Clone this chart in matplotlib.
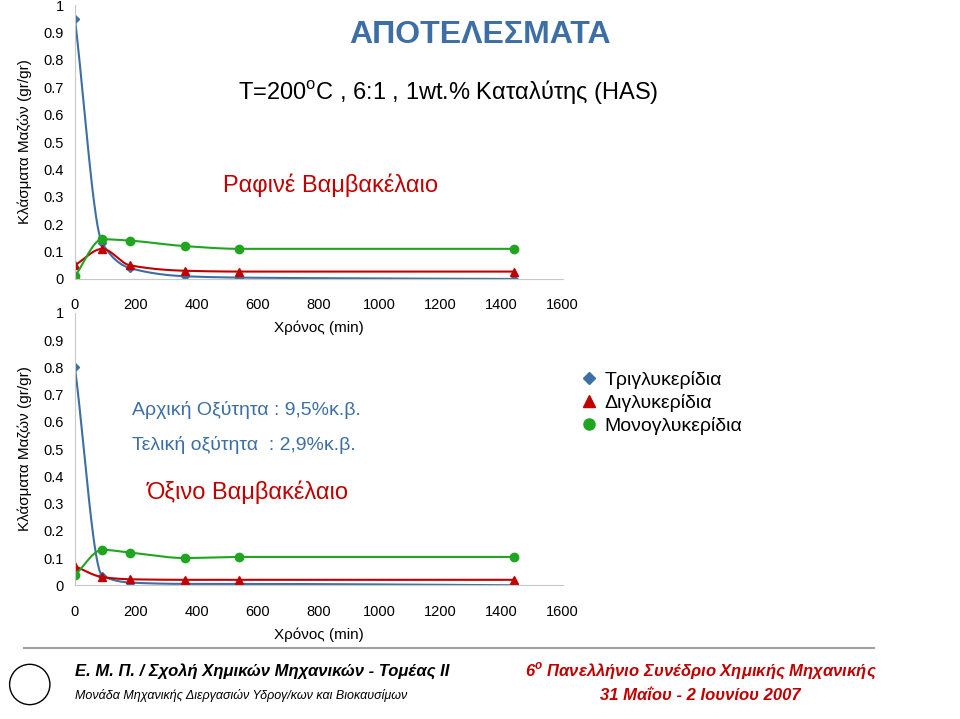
import numpy as np
from matplotlib import pyplot as plt
from matplotlib.lines import Line2D
from matplotlib.patches import Ellipse

plt.rcParams['font.family'] = 'Liberation Sans'

# χρόνοι δειγματοληψίας (min)
time_min = [0, 90, 180, 360, 540, 1440]

# Ραφινέ Βαμβακέλαιο
tg_refined = [0.95, 0.13, 0.04, 0.01, 0.005, 0.0]
dg_refined = [0.05, 0.11, 0.05, 0.03, 0.027, 0.027]
mg_refined = [0.01, 0.145, 0.14, 0.12, 0.11, 0.11]

# Όξινο Βαμβακέλαιο
tg_acid = [0.80, 0.035, 0.01, 0.005, 0.005, 0.0]
dg_acid = [0.07, 0.03, 0.022, 0.02, 0.02, 0.02]
mg_acid = [0.037, 0.13, 0.12, 0.10, 0.104, 0.104]

x_ticks = [0, 200, 400, 600, 800, 1000, 1200, 1400, 1600]
y_ticks = [0, 0.1, 0.2, 0.3, 0.4, 0.5, 0.6, 0.7, 0.8, 0.9, 1]

BLUE = '#3d6fa5'
RED = '#c00000'
GREEN = '#1fa51f'


def smooth(x, y, n=40):
    # μονότονη κυβική καμπύλη (Fritsch-Carlson) για ομαλή γραμμή
    x = np.asarray(x, float)
    y = np.asarray(y, float)
    h = np.diff(x)
    d = np.diff(y) / h
    m = np.zeros_like(y)
    m[0], m[-1] = d[0], d[-1]
    for i in range(1, len(y) - 1):
        if d[i - 1] * d[i] > 0:
            w1, w2 = 2 * h[i] + h[i - 1], h[i] + 2 * h[i - 1]
            m[i] = (w1 + w2) / (w1 / d[i - 1] + w2 / d[i])
    xs, ys = [], []
    for i in range(len(x) - 1):
        t = np.linspace(0, 1, n)
        h00 = 2*t**3 - 3*t**2 + 1
        h10 = t**3 - 2*t**2 + t
        h01 = -2*t**3 + 3*t**2
        h11 = t**3 - t**2
        xs.append(x[i] + t * h[i])
        ys.append(h00*y[i] + h10*h[i]*m[i] + h01*y[i+1] + h11*h[i]*m[i+1])
    return np.concatenate(xs), np.concatenate(ys)


def draw(ax, tg, dg, mg):
    for vals, color, marker, ms in [(tg, BLUE, 'D', 4), (dg, RED, '^', 6), (mg, GREEN, 'o', 6)]:
        sx, sy = smooth(time_min, vals)
        ax.plot(sx, sy, color=color, lw=1.5)
        ax.plot(time_min, vals, linestyle='none', marker=marker, color=color, ms=ms)
    ax.set_xlim(0, 1600)
    ax.set_ylim(0, 1)
    ax.set_xticks(x_ticks)
    ax.set_yticks(y_ticks)
    ax.set_yticklabels([f'{v:g}' for v in y_ticks])
    ax.tick_params(length=0, labelsize=10.5)
    ax.tick_params(axis='x', pad=14)
    ax.tick_params(axis='y', pad=8)
    for s in ['top', 'right']:
        ax.spines[s].set_visible(False)
    for s in ['left', 'bottom']:
        ax.spines[s].set_color('#c8c8c8')
    ax.set_facecolor('none')
    ax.set_xlabel('Χρόνος (min)', fontsize=11, labelpad=6)
    ax.set_ylabel('Κλάσματα Μαζών (gr/gr)', fontsize=11, labelpad=8)


fig = plt.figure(figsize=(9.6, 7.19), dpi=100)

ax1 = fig.add_axes([0.078, 0.612, 0.508, 0.381])
draw(ax1, tg_refined, dg_refined, mg_refined)
ax2 = fig.add_axes([0.078, 0.186, 0.508, 0.379])
draw(ax2, tg_acid, dg_acid, mg_acid)

fig.text(0.5, 0.951, 'ΑΠΟΤΕΛΕΣΜΑΤΑ', color=BLUE, fontsize=23, fontweight='bold', ha='center', va='center')
fig.text(0.467, 0.872, 'T=200$^{\\mathregular{o}}$C , 6:1 , 1wt.% Καταλύτης (HAS)', fontsize=17, ha='center', va='center')
fig.text(0.344, 0.742, 'Ραφινέ Βαμβακέλαιο', color=RED, fontsize=17, ha='center', va='center')
fig.text(0.138, 0.430, 'Αρχική Οξύτητα : 9,5%κ.β.', color=BLUE, fontsize=14, va='center')
fig.text(0.138, 0.381, 'Τελική οξύτητα  : 2,9%κ.β.', color=BLUE, fontsize=14, va='center')
fig.text(0.153, 0.316, 'Όξινο Βαμβακέλαιο', color=RED, fontsize=17, va='center')

handles = [Line2D([], [], color=BLUE, marker='D', ls='none', ms=6),
           Line2D([], [], color=RED, marker='^', ls='none', ms=8),
           Line2D([], [], color=GREEN, marker='o', ls='none', ms=8)]
fig.legend(handles, ['Τριγλυκερίδια', 'Διγλυκερίδια', 'Μονογλυκερίδια'],
           loc='upper left', bbox_to_anchor=(0.585, 0.508), frameon=False,
           fontsize=14, handletextpad=0.3, labelspacing=0.25, handlelength=1.0)

# υποσέλιδο
fig.add_artist(Line2D([0.025, 0.91], [0.099, 0.099], color='#a0a0a0', lw=1.5))
fig.add_artist(Ellipse((0.031, 0.048), 0.042, 0.042 * 960 / 719, transform=fig.transFigure,
                       fill=False, color='black', lw=1))
fig.text(0.078, 0.066, 'Ε. Μ. Π. / Σχολή Χημικών Μηχανικών - Τομέας ΙΙ', fontsize=12,
         fontweight='bold', style='italic', va='center')
fig.text(0.078, 0.033, 'Μονάδα Μηχανικής Διεργασιών Υδρογ/κων και Βιοκαυσίμων', fontsize=9,
         style='italic', va='center')
fig.text(0.73, 0.066, '6$^{\\mathregular{o}}$ Πανελλήνιο Συνέδριο Χημικής Μηχανικής', fontsize=12, color=RED,
         fontweight='bold', style='italic', ha='center', va='center')
fig.text(0.73, 0.033, '31 Μαΐου - 2 Ιουνίου 2007', fontsize=12, color=RED,
         fontweight='bold', style='italic', ha='center', va='center')

fig.savefig('out.png', dpi=100)
